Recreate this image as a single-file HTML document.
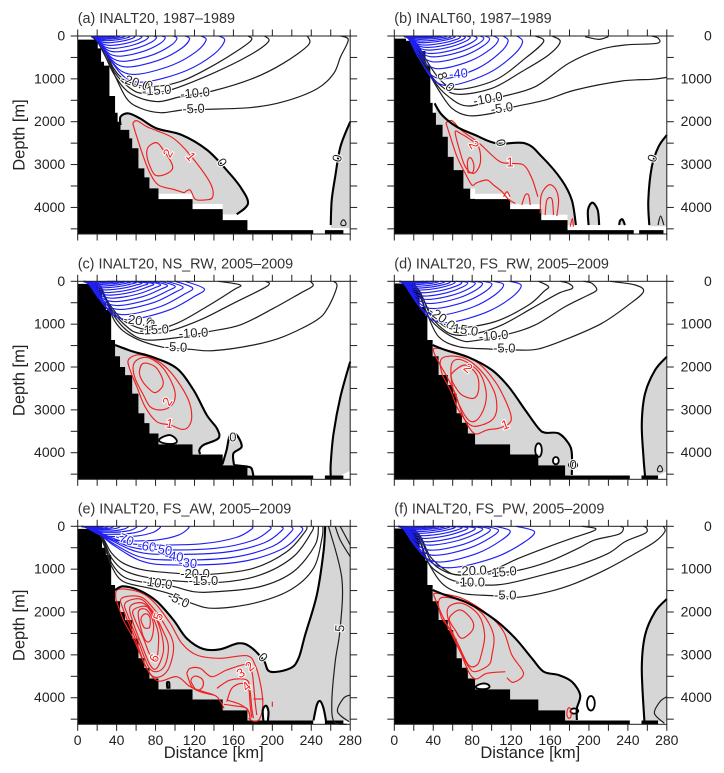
<!DOCTYPE html>
<html lang="en">
<head>
<meta charset="utf-8">
<title>Overturning sections</title>
<style>
html,body{margin:0;padding:0;background:#fff;}
svg{display:block;font-family:"Liberation Sans",sans-serif;filter:blur(0.3px);}
</style>
</head>
<body>
<svg id="chart" xmlns="http://www.w3.org/2000/svg" width="724" height="773" viewBox="0 0 724 773"></svg>
<script>
// ---------- axis data ----------
const xTickKm = [0,20,40,60,80,100,120,140,160,180,200,220,240,260,280];
const xLabelKm = [0,40,80,120,160,200,240,280];
const yTickDepth = [0,500,1000,1500,2000,2500,3000,3500,4000,4500];
const yLabelDepth = [0,1000,2000,3000,4000];

// ---------- bathymetry steps ----------
const aBathKm = [0,20.6,24,27,32.6,38.4,41,44,53,56,62.4,68.5,73.7,83,118,149,174.4,242,254,273];
const aBathDepth = [85,290,600,690,1400,1790,2000,2190,2390,2620,3090,3300,3555,3805,4040,4295,4530,4620,4530,4620];
const bBathKm = [0,12,20,25,32,37,39.4,42.8,49.6,55,61,71,78,83,119,151,178,246,251.6,276.6];
const bBathDepth = [60,110,190,350,700,1560,1790,2070,2350,2820,3130,3560,3800,3805,4040,4295,4530,4620,4530,4620];
const cBathKm = [0,21,25,29,34.4,38.4,43.5,48.7,56,62.4,68.5,73.7,83,118,149,174.4,242,254,273];
const cBathDepth = [60,200,500,670,1370,1750,2000,2190,2620,3080,3310,3550,3805,4040,4295,4530,4620,4530,4620];
const dBathKm = [0,22,26,32,34,39.4,45.5,55,60.5,64,69.5,75.6,83,119,148,175.5,242,254,271];
const dBathDepth = [50,200,600,800,1370,1750,2186,2420,2620,3080,3300,3550,3805,4040,4295,4530,4620,4530,4620];

// ---------- lower-boundary masks of the shaded cell ----------
const aMask = [[149,4162],[149,3920],[118,3920],[118,3680],[83,3680],[83,3555],[73.7,3555],[73.7,3430],[68.5,3430],[68.5,3300],[62.4,3300],[62.4,2800],[56,2800],[56,2570],[53,2570],[53,2200],[44,2200]];
const bMask = [[178,4411],[178,4170],[151,4170],[151,3925],[119,3925],[119,3680],[83,3680],[83,3560],[71,3560],[71,3130],[61,3130],[61,2820],[55,2820],[55,2350],[49.6,2350],[49.6,2070],[42.8,2070],[42.8,1790]];
const cMask = [[118,4030],[118,3805],[83,3805],[83,3550],[73.7,3550],[73.7,3310],[68.5,3310],[68.5,3080],[62.4,3080],[62.4,2620],[56,2620],[56,2190],[48.7,2190],[48.7,2000],[43.5,2000],[43.5,1750],[38.4,1750]];
const dMask = [[175.5,4530],[175.5,4295],[148,4295],[148,4040],[119,4040],[119,3805],[83,3805],[83,3550],[75.6,3550],[75.6,3300],[69.5,3300],[69.5,3080],[64,3080],[64,2620],[60.5,2620],[60.5,2420],[55,2420],[55,2186],[45.5,2186],[45.5,1750],[39.4,1750]];
const eMask = [[280,0],[280,4530],[254,4530],[174.4,4530],[174.4,4295],[149,4295],[149,4040],[118,4040],[118,3805],[83,3805],[83,3550],[73.7,3550],[73.7,3310],[68.5,3310],[68.5,3080],[62.4,3080],[62.4,2620],[56,2620],[56,2190],[48.7,2190],[48.7,2000],[43.5,2000],[43.5,1750],[38.4,1750]];

// ---------- panel a ----------
const aBlueOutcropKm = [151,132,115,102,90,81,72.7,66,58.9,53.8,48.7,43.6,38.4,35];
const aBlueKeelDepth = [1066,887,716,584,467,366,288,218,156,109,78,55,31,16];
const aZeroMain = [[44,2077],[44,1883],[52,1805],[64,1922],[81,2155],[107,2310],[133,2660],[153,3128],[167,3517],[175,3906],[163.5,4162]];
const aZeroRight = [[260,4410],[261,3830],[264.6,3280],[270,2580],[280,2000]];
const aMinus5 = [[15,25],[21,160],[36,820],[50,1450],[64,1680],[85,1790],[107,1730],[133,1710],[178,1670],[212,1530],[246,1230],[263,875],[270,490],[278,90],[270,0]];
const aMinus10 = [[15,20],[24,250],[37,880],[54,1340],[81,1530],[105,1420],[139,1280],[180,990],[211,640],[237,210],[236,0]];
const aMinus15 = [[15,20],[26,280],[38,850],[54,1220],[68,1340],[95,1260],[139,870],[177,444],[196,132],[192,0]];
const aMinus20 = [[15,20],[27,280],[37,755],[49,1030],[71,1180],[105,1066],[143,640],[177,132],[175,0]];
const aRed1Upper = [[56.5,2038],[60.7,1976],[71,2116],[81.2,2210],[98.4,2388],[115.5,2777],[136,3423],[138.5,3765],[129.2,3828],[120.6,3804],[115.5,3594],[109.3,3657]];
const aRed1Lower = [[56.5,2038],[60.7,2350],[67.5,2816],[74.4,3205],[83,3478],[98.4,3579],[109.3,3657]];
const aRed2 = [[72.7,2583],[81.2,2490],[88,2660],[96.6,2972],[96.6,3128],[88,3244],[79.5,3244],[74.4,3050],[71,2777]];

// ---------- panel b ----------
const bBlueOutcropKm = [131.8,117,107,98,92,85,78,73,68,62.6,58.5,54,49,44,39,33.5];
const bBlueKeelDepth = [1144,988,755,600,482,405,327,265,210,156,117,78,47,31,16,8];
const bZeroMain = [[41.4,1572],[49,1844],[64,2116],[83,2310],[105,2505],[134.5,2505],[151.6,2816],[172,3361],[182.4,3828],[186.6,4411]];
const bZeroRight = [[262,4411],[261,3828],[264.6,3050],[271.5,2583],[280,2310]];
const bDome1 = [[199.6,4411],[199,4060],[203.5,3890],[209,4060],[210.5,4411]];
const bDome2 = [[231,4411],[232,4310],[234.5,4280],[237,4411]];
const bDome3 = [[271,4411],[273.6,4200],[277,4411]];
const bMinus5 = [[16,60],[31.8,716],[45.5,1260],[59.2,1688],[76.3,1859],[100.3,1805],[120.8,1665],[155,1494],[186,1260],[233.8,1050],[264.6,1011],[280,965]];
const bMinus10 = [[16,50],[27,350],[40.4,1027],[55.8,1416],[76.3,1634],[110.6,1416],[144.8,1183],[179,638],[209.8,327],[237.2,210],[269.7,171],[271.4,54],[264.6,0]];
const bMinus15 = [[16,40],[25,280],[35,832],[49,1183],[66,1361],[100.3,1221],[131,832],[158.5,443],[170.5,132],[162,0]];
const bMinus20 = [[16,30],[25,240],[35,640],[49,1066],[66,1245],[103.7,1027],[134.5,521],[153.4,132],[144.8,0]];
const bTopPatch = [[196,15],[210,78],[220,15]];
const bRed1Upper = [[53,2023],[59.2,1976],[69.5,2210],[86.6,2490],[107,2910],[119,2972],[132.8,3011],[141.4,3322],[147.5,3750]];
const bRed1Lower = [[53,2023],[56.5,2272],[64.4,2816],[72.9,3205],[79.8,3478],[84.9,3423],[95.2,3361],[102,3478],[110.6,3633],[117.4,3812],[124.3,3906]];
const bRedArch1 = [[150,4139],[151,3711],[158.5,3478],[165.3,3555],[168.8,3828],[167,4201]];
const bRedArch2 = [[155,4178],[156.8,3828],[162,3804],[163.6,4178]];
const bRed2 = [[62.6,2233],[66,2583],[72.9,3050],[81.5,3205],[88.3,2972],[86.6,2583],[76.3,2388],[67.8,2272]];
const bRed3 = [[75.6,3128],[75.6,2894],[79.8,2879],[81.5,3128],[77,3190]];
const bRedArch3 = [[131,3944],[134.5,3711],[138,3711],[139.7,3944]];
const bRedArch4 = [[112.3,3750],[115.7,3633],[119,3750]];
const bRedArch5 = [[180.7,4450],[183,4256],[184,4450]];

// ---------- panel c ----------
const cBlueOutcropKm = [130,118,108,100,92,85,78,72,66,60,54,48,42,36];
const cBlueKeelDepth = [880,770,650,560,470,390,320,260,200,150,110,75,45,20];
const cZeroMain = [[38.4,1486],[57.2,1642],[77.8,1774],[101.8,2031],[119,2536],[132.6,3120],[143,3431],[144.6,3664],[129.2,3820],[125,3937],[125.8,4030]];
const cZeroRight = [[260,4560],[260,4248],[262.9,3548],[270,2692],[280,1875]];
const cBubble = [[84.6,3742],[89.8,3610],[98.4,3625],[100,3780]];
const cDome = [[148.7,4271],[153,3937],[156.5,3586],[163.3,3586],[168.5,3860],[160,4015],[160.6,4287]];
const cDomeFoot = [[160.6,4287],[174.4,4326],[178.6,4365],[180.6,4545]];
const cMinus5 = [[17,30],[24.7,163],[38.4,941],[57.2,1307],[88,1540],[115.5,1587],[139.5,1618],[180.6,1486],[211.4,1291],[245.7,902],[257.7,591],[266.3,124],[262.9,0]];
const cMinus10 = [[17,30],[26,300],[36.7,786],[52,1175],[71,1369],[105,1307],[134.3,1175],[167,1019],[201.2,630],[228.6,280],[241.6,109],[238.9,0]];
const cMinus15 = [[17,25],[26,260],[35,670],[50.4,1058],[64,1214],[91.5,1175],[125.8,902],[160,513],[190.9,163],[197,47],[192.6,0]];
const cMinus20 = [[17,20],[25,220],[33.2,552],[48.7,941],[74.4,1136],[101.8,980],[132.6,591],[160,202],[166.9,86],[144.6,0]];
const cRed1 = [[52,1836],[60.7,1719],[72.7,1758],[88,1953],[101.8,2303],[113.8,2770],[117.2,3159],[113.8,3392],[107,3454],[95,3353],[81.2,3275],[69.2,2925],[60.7,2458],[53.8,2070]];
const cRed2 = [[57.2,1953],[64,1797],[74.4,1797],[88,2031],[98.4,2458],[100,2731],[95,2925],[84.6,3003],[74.4,2925],[67.5,2653],[59,2264]];
const cRed3 = [[63.4,2108],[67.5,1914],[79.5,1992],[87,2264],[87,2458],[79.5,2598],[72.7,2497],[65.8,2303]];

// ---------- panel d ----------
const dBlueOutcropKm = [130.4,112.3,100.3,90.7,83.2,75.6,69.5,62.6,57.5,51.7,45.5,40.4,36,31];
const dBlueKeelDepth = [957,786,630,513,420,342,265,202,156,117,78,47,31,16];
const dZeroMain = [[39.4,1486],[52.4,1603],[76.3,1774],[100.3,2070],[117.4,2458],[134.5,3003],[148.2,3431],[155,3532],[168.8,3548],[179,3781],[182.4,4015],[182.4,4520]];
const dZeroRight = [[257.7,4560],[256,4092],[254.3,3314],[257.7,2614],[268,2070],[280,1758]];
const dHole1 = [[144.8,3937],[148.2,3780],[151.6,3937],[148.2,4100]];
const dHole2 = [[163,4186],[166,4100],[169,4186],[166,4270]];
const dHole3 = [[179.5,4287],[183.8,4220],[188,4287],[183.8,4350]];
const dMinus5 = [[17,30],[25,280],[33.5,747],[45.5,1291],[66,1525],[96.9,1579],[126,1603],[148.2,1579],[179,1330],[213.3,980],[240.6,552],[256,241],[247.5,86],[221.8,0]];
const dMinus10 = [[17,25],[26,280],[35.3,825],[50.7,1175],[69.5,1385],[83,1385],[117.4,1229],[144.8,1019],[175.6,591],[199.5,319],[208,202],[203,47],[194.4,0]];
const dMinus15 = [[17,20],[27,280],[37,786],[49,1097],[62.6,1253],[84.9,1214],[110.6,1019],[141.4,630],[168.8,280],[183,163],[179,47],[170.5,0]];
const dMinus20 = [[17,15],[26,230],[35.3,670],[47.2,980],[62.6,1097],[103.7,941],[138,552],[153.4,241],[158.5,124],[148.2,0]];
const dRed1 = [[40.4,1642],[43.8,1564],[66,1681],[86.6,1914],[103.7,2342],[114,2770],[120.1,3159],[117.4,3330],[107,3431],[95.2,3470],[83.9,3563],[76.3,3392],[69.5,3081],[62.6,2614],[54,2225],[47.2,1953]];
const dRed2 = [[49,1797],[69.5,1774],[88.3,2070],[102,2536],[105.4,2925],[102,3198],[90,3353],[78,3353],[66,3003],[57.5,2536],[49,2153]];
const dRed3 = [[59.2,1914],[69.5,1836],[86.6,2108],[94.1,2536],[92.8,2925],[84.9,3236],[76.3,3236],[66,2847],[59.2,2381]];
const dRed4 = [[59.2,2147],[72.9,1953],[84.9,2186],[86.6,2536],[81.5,2731],[69.5,2653],[62.6,2458],[59.2,2303]];

// ---------- panel e ----------
const eBlueOutcropKm = [230,220,210,197.7,179,113.8,84.6,71,60.7,52,43.5,36.7,31.5,26.4,23,19.5];
const eBlueKeelDepth = [902,786,654,552,436,342,241,187,140,109,78,62,47,31,23,16];
const eZeroMain = [[38.4,1486],[47,1401],[64,1502],[81.2,1751],[98.4,2186],[112,2614],[129.2,2863],[146.3,2871],[165,2731],[177.2,2809],[190.9,3120],[197.7,3392],[218.3,3314],[226.9,3081],[233.7,2536],[245.7,1603],[252.6,591],[254.3,0]];
const eDome1 = [[242.3,4530],[245.7,4170],[249.1,4077],[252.6,4248],[255.3,4560]];
const eDome2 = [[190.9,4560],[190.2,4287],[193.6,4186],[196,4326],[195.3,4560]];
const eBlob = [[92.2,3790],[91.8,3650],[94,3650],[94.2,3790]];
const ePlus5 = [[257.7,0],[271.4,1214],[269.7,2381],[264.6,3159],[261.1,4092],[263.5,4560],[276.5,4620]];
const ePlusA = [[264.6,0],[269.7,319],[280,708]];
const ePlusB = [[269.7,0],[280,436]];
const ePlusC = [[280,3937],[273,4015],[267,4326],[278.8,4560]];
const eMinus5 = [[22,150],[28,500],[35,941],[47,1291],[74.4,1447],[98.4,1603],[117.2,1797],[139.5,1914],[180.6,1797],[218.3,1486],[242.3,980],[251,280],[252,0]];
const eMinus10 = [[22,130],[28,450],[35,864],[47,1175],[67.5,1307],[95,1385],[119,1525],[143,1525],[187.5,1408],[221.7,1058],[244,436],[247.4,0]];
const eMinus15 = [[22,120],[28,400],[35,747],[47,1019],[67.5,1175],[101.8,1276],[146.3,1307],[187.5,1136],[221.7,708],[240.6,124],[241.6,0]];
const eMinus20 = [[22,110],[28,350],[35,630],[47,864],[67.5,1019],[101.8,1097],[136,1120],[180.6,980],[215,591],[233.7,124],[235.4,0]];
const eRedOuterUpper = [[39,1680],[41.8,1470],[64,1540],[79.5,1797],[95,2264],[107,2731],[122.3,3003],[146.3,3081],[173.7,3019],[182.3,3236],[188,3703],[190.2,4170],[186.8,4497],[180.6,4544],[175.5,4481]];
const eRedOuterLower = [[39,1680],[47,2186],[57.2,2614],[71,3314],[83,3610],[101.8,3509],[115.5,3742],[129.2,3859],[143,3976],[150.4,4248]];
const eRedL2 = [[45.2,1680],[64,1642],[77.8,1914],[91.5,2381],[98.4,2770],[95,3236],[88,3470],[77.8,3509],[69.2,3236],[59,2614],[47,1953]];
const eRedL3 = [[48.7,1797],[64,1696],[76,1953],[88,2458],[93.2,2809],[89.8,3236],[81.2,3392],[72.7,3275],[62.4,2692],[52,2108]];
const eRedL4 = [[53.8,1875],[67.5,1797],[79.5,2108],[86.4,2536],[88,2925],[81.2,3314],[74.4,3236],[65.8,2770],[57.2,2264]];
const eRedL5 = [[57.2,1953],[71,1875],[78.5,2186],[83,2536],[81.2,3081],[74.4,3003],[67.5,2614],[59,2186]];
const eRedL6 = [[62.4,1992],[71,1953],[77.8,2264],[76,2614],[71,2692],[65.8,2458]];
const eRedL7 = [[65.8,2108],[72.7,2069],[74.4,2303],[71,2381],[66.8,2303]];
const eRedM1 = [[112,3431],[115.5,3314],[125.8,3314],[137.8,3509],[153.2,3353],[173.7,3221],[178.9,3392],[180.6,3664],[182.3,4092],[184,4403]];
const eRedM2 = [[117.2,3548],[124,3509],[129.2,3664],[124,3820],[118.2,3703]];
const eRedM3 = [[143,3781],[156.6,3587],[173.7,3587],[177.2,3859],[178.9,4248],[180.6,4481]];
const eRedM4 = [[153.2,4092],[158.3,3781],[168.6,3664],[175.5,3781],[177.2,4170],[178.9,4466]];
const eRedB1 = [[150.4,4154],[160,4186],[173.7,4248],[177.2,4481]];
const eRedB2 = [[153.2,4053],[166.9,4154],[175.5,4310],[177.2,4497]];
const eRedB3 = [[112,3431],[117.2,3742],[125.8,3859],[139.5,3937]];
const eRedBar = [[180.6,4030],[190.9,4030]];
const eRedTick = [[200,4092],[200,4209]];

// ---------- panel f ----------
const fBlueOutcropKm = [144,119,107,98.6,90.7,83.2,75.6,69.5,62.6,56.5,51.7,45.5,40.4,35];
const fBlueKeelDepth = [957,825,669,552,436,358,280,218,163,124,86,62,39,23];
const fZeroMain = [[39.4,1486],[52.4,1603],[76.3,1797],[103.7,2186],[124.3,2614],[141.4,3081],[153.4,3392],[168.8,3470],[182.4,3625],[191,3937],[187.6,4248],[187.6,4520]];
const fZeroRight = [[257,4560],[254.3,3314],[257.7,2536],[268,1992],[280,1696]];
const fBubble = [[84.9,3781],[86.6,3695],[95.2,3680],[96.2,3781]];
const fHole = [[181,4310],[184.8,4250],[189,4310],[184.8,4370]];
const fDiamond = [[198,4131],[202,3960],[206,4131],[202,4300]];
const fPlusA = [[280,3976],[273,4092],[267.3,4365],[277.6,4598]];
const fMinus5 = [[17,30],[25,280],[33.5,786],[49,1330],[69.5,1564],[100.3,1618],[126,1657],[158.8,1525],[186,1330],[220,980],[250.9,591],[268,358],[278,124],[276.5,0]];
const fMinus10 = [[17,25],[26,300],[35.3,864],[49,1136],[64.4,1291],[91.7,1369],[117.4,1330],[158.8,1097],[189.6,902],[220,630],[237.2,358],[257.7,163],[259.4,47],[256,0]];
const fMinus15 = [[17,20],[27,280],[37,786],[49,1019],[66,1136],[96.9,1097],[124.3,1042],[158.5,825],[189,513],[206,319],[230.4,187],[235.5,47],[232,0]];
const fMinus20 = [[17,15],[27,240],[37,708],[52.4,1019],[66,1136],[95,1074],[127.7,747],[158.5,475],[182.4,280],[203,124],[206.4,47],[192.7,0]];
const fRed1Upper = [[40.4,1603],[43.8,1564],[69.5,1680],[96.9,2070],[112.3,2458],[120.8,3003],[132.8,3431],[122.5,3641],[115.7,3532]];
const fRed1Lower = [[114,3392],[95.2,3431],[83.9,3563],[76.3,3392],[67.8,2925],[57.5,2458],[49,2070],[40.4,1603]];
const fRed2 = [[47.2,1680],[69.5,1743],[90,2030],[102,2536],[100.3,3003],[97,3236],[83.2,3392],[76.3,3275],[66,2847],[56.5,2381],[48,2108]];
const fRed3 = [[55,1914],[69.5,1797],[86.6,2070],[92.8,2536],[89.3,3003],[85,3236],[76.3,3236],[66,2770],[57.5,2342]];
const fRed4 = [[56.5,2147],[67.8,1953],[79.8,2186],[80.4,2420],[69.5,2614],[62.6,2420]];
const fRedMini = [[177.3,4365],[179.7,4232],[181.8,4365],[179.7,4481]];

// ---------- layout ----------
const SVGNS = 'http://www.w3.org/2000/svg';
const root = document.getElementById('chart');
const PLOT_W = 272.5, PLOT_H = 198, MAX_KM = 280, MAX_DEPTH = 4620;
const GRAY = '#d6d6d6', BLUE = '#1f1ff5', RED = '#f02020', DARK = '#1e1e1e';

const panels = [
 {id:'a',title:'(a) INALT20, 1987\u20131989',left:77.7,top:36,side:'left',bottom:false,
  bathKm:aBathKm,bathDepth:aBathDepth,blueOut:aBlueOutcropKm,blueKeel:aBlueKeelDepth,shelf:[14,15],flat:false,tip:0.96,tipDepth:0.1,
  fills:[{c:aZeroMain,m:aMask,f:GRAY},{c:aZeroRight,m:[[280,4480],[260,4480]],f:GRAY}],
  black:[aMinus5,aMinus10,aMinus15,aMinus20],
  red:[aRed1Upper,aRed1Lower],redClosed:[aRed2],
  zero:[aZeroMain,aZeroRight],
  closedBlack:[[[270.5,4400],[273,4290],[275.5,4400]]],
  labels:[['-20.0',59,1089,18],['0',72.7,1159,30],['-15.0',81.2,1276,-4],['-10.0',120.6,1338,-5],['-5.0',119,1704,-2],['0',148,2956,55],['0',267,2855,-75],['2',93.2,2738,-60,RED],['1',116,2816,50,RED]]},
 {id:'b',title:'(b) INALT60, 1987\u20131989',left:394.3,top:36,side:'right',bottom:false,
  bathKm:bBathKm,bathDepth:bBathDepth,blueOut:bBlueOutcropKm,blueKeel:bBlueKeelDepth,shelf:[10,10],flat:false,tip:0.955,tipDepth:0.12,
  fills:[{c:bZeroMain,m:bMask,f:GRAY},{c:bZeroRight,m:[[280,4440],[262,4440]],f:GRAY},{c:bDome1,m:[],f:GRAY},{c:bDome2,m:[],f:GRAY}],
  black:[bMinus5,bMinus10,bMinus15,bMinus20,bTopPatch,bDome3],
  red:[bRed1Upper,bRed1Lower,bRedArch1,bRedArch2,bRedArch3,bRedArch4,bRedArch5],redClosed:[bRed2,bRed3],
  zero:[bZeroMain,bZeroRight,bDome1,bDome2],closedBlack:[],
  labels:[['-40',66,887,-5,BLUE],['8',49,933,70],['0',57,1198,45],['-10.0',96.2,1470,-10],['-5.0',110.6,1688,-8],['0',109,2490,80],['0',265.6,2855,-70],['1',119,2950,0,RED],['2',81.5,2545,60,RED]]},
 {id:'c',title:'(c) INALT20, NS_RW, 2005\u20132009',left:77.7,top:281.3,side:'left',bottom:false,
  bathKm:cBathKm,bathDepth:cBathDepth,blueOut:cBlueOutcropKm,blueKeel:cBlueKeelDepth,shelf:[6,5],flat:false,tip:0.85,tipDepth:0.2,
  fills:[{c:cZeroMain,m:cMask,f:GRAY},{c:cZeroRight,m:[[280,4420],[262,4620],[260,4620]],f:GRAY},{c:cDome,m:[],f:GRAY},{c:cDomeFoot,m:[[174.4,4530],[174.4,4295],[149,4295],[148.7,4271]],f:GRAY}],
  closedWhite:[cBubble],
  black:[cMinus5,cMinus10,cMinus15,cMinus20],
  red:[],redClosed:[cRed1,cRed2,cRed3],
  zero:[cZeroMain,cZeroRight,cDome,cDomeFoot],closedBlack:[],
  labels:[['-20.0',62.4,926,8],['0',74.4,996,45],['-15.0',78.5,1136,-3],['-10.0',119,1214,-3],['-5.0',101,1540,3],['0',159.4,3649,0],['2',92.5,2809,-60,RED],['1',94.3,3330,10,RED]]},
 {id:'d',title:'(d) INALT20, FS_RW, 2005\u20132009',left:394.3,top:281.3,side:'right',bottom:false,
  bathKm:dBathKm,bathDepth:dBathDepth,blueOut:dBlueOutcropKm,blueKeel:dBlueKeelDepth,shelf:[5,5],flat:false,tip:0.91,tipDepth:0.1,
  fills:[{c:dZeroMain,m:dMask,f:GRAY},{c:dZeroRight,m:[[280,4430],[271,4530],[258,4530]],f:GRAY}],
  closedWhite:[dHole1,dHole2,dHole3],
  black:[dMinus5,dMinus10,dMinus15,dMinus20],
  red:[],redClosed:[dRed1,dRed2,dRed3,dRed4],
  zero:[dZeroMain,dZeroRight],closedBlack:[[[270.5,4420],[273,4300],[275.5,4420]]],
  labels:[['-20.0',49,864,35],['0',57.5,1019,45],['-15.0',71,1136,8],['-10.0',102,1276,-5],['-5.0',113,1564,0],['1',114,3353,-20,RED],['2',75.6,2030,40,RED],['0',183.8,4287,0]]},
 {id:'e',title:'(e) INALT20, FS_AW, 2005\u20132009',left:77.7,top:526.3,side:'left',bottom:true,
  bathKm:cBathKm,bathDepth:cBathDepth,blueOut:eBlueOutcropKm,blueKeel:eBlueKeelDepth,shelf:[4,4],flat:true,tip:0.995,tipDepth:0.14,
  fills:[{c:eZeroMain,m:eMask,f:GRAY}],
  closedWhite:[],openWhite:[eDome1,eDome2],
  black:[eMinus5,eMinus10,eMinus15,eMinus20,ePlus5,ePlusA,ePlusB,ePlusC],
  red:[eRedOuterUpper,eRedOuterLower,eRedM1,eRedM3,eRedM4,eRedB1,eRedB2,eRedB3,eRedBar,eRedTick],
  redClosed:[eRedL2,eRedL3,eRedL4,eRedL5,eRedL6,eRedL7,eRedM2],
  zero:[eZeroMain,eDome1,eDome2,eBlob],closedBlack:[],
  labels:[['-70',48,303,20,BLUE],['-60',71,475,8,BLUE],['-50',87.4,552,10,BLUE],['-40',99,708,8,BLUE],['-30',113,864,5,BLUE],['-20.0',120.6,1112,0],['-15.0',129.2,1276,0],['-10.0',82,1330,8],['-5.0',103.5,1719,25],['5',269.7,2381,-85],['0',190.2,3065,45],['5',83,2108,-70,RED],['6',78.9,3081,-60,RED],['3',167.7,3431,-30,RED],['2',177,3275,-40,RED],['4',173.7,3742,-40,RED]]},
 {id:'f',title:'(f) INALT20, FS_PW, 2005\u20132009',left:394.3,top:526.3,side:'right',bottom:true,
  bathKm:dBathKm,bathDepth:dBathDepth,blueOut:fBlueOutcropKm,blueKeel:fBlueKeelDepth,shelf:[4,4],flat:false,tip:0.87,tipDepth:0.13,
  fills:[{c:fZeroMain,m:dMask,f:GRAY},{c:fZeroRight,m:[[280,4560],[257,4560]],f:GRAY}],
  closedWhite:[fBubble,fHole,fDiamond],
  black:[fMinus5,fMinus10,fMinus15,fMinus20,fPlusA],
  red:[fRed1Upper,fRed1Lower],redClosed:[fRed2,fRed3,fRed4,fRedMini],
  zero:[fZeroMain,fZeroRight],closedBlack:[],
  labels:[['-20.0',79.8,1042,-2],['-15.0',110.6,1074,-5],['-10.0',78,1315,0],['-5.0',114,1618,0]]}
];

// ---------- drawing helpers ----------
function add(parent, tag, attrs, name){
  const el = document.createElementNS(SVGNS, tag);
  for (const k in attrs) el.setAttribute(k, attrs[k]);
  
  
  parent.appendChild(el);
  return el;
}
function smoothOpen(p){
  let d = 'M' + p[0][0].toFixed(2) + ' ' + p[0][1].toFixed(2);
  for (let i = 0; i < p.length - 1; i++){
    const a = p[Math.max(i-1,0)], b = p[i], c = p[i+1], e = p[Math.min(i+2,p.length-1)];
    d += 'C' + (b[0]+(c[0]-a[0])/6).toFixed(2) + ' ' + (b[1]+(c[1]-a[1])/6).toFixed(2) + ' ' +
         (c[0]-(e[0]-b[0])/6).toFixed(2) + ' ' + (c[1]-(e[1]-b[1])/6).toFixed(2) + ' ' +
         c[0].toFixed(2) + ' ' + c[1].toFixed(2);
  }
  return d;
}
function smoothClosed(p){
  const n = p.length;
  const k = n <= 5 ? 3.6 : 6;
  let d = 'M' + p[0][0].toFixed(2) + ' ' + p[0][1].toFixed(2);
  for (let i = 0; i < n; i++){
    const a = p[(i-1+n)%n], b = p[i], c = p[(i+1)%n], e = p[(i+2)%n];
    d += 'C' + (b[0]+(c[0]-a[0])/k).toFixed(2) + ' ' + (b[1]+(c[1]-a[1])/k).toFixed(2) + ' ' +
         (c[0]-(e[0]-b[0])/k).toFixed(2) + ' ' + (c[1]-(e[1]-b[1])/k).toFixed(2) + ' ' +
         c[0].toFixed(2) + ' ' + c[1].toFixed(2);
  }
  return d + 'Z';
}

function drawPanel(p){
  const xAxis = km => p.left + km / MAX_KM * PLOT_W;
  const yAxis = m => p.top + m / MAX_DEPTH * PLOT_H;
  const proj = pts => pts.map(q => [xAxis(q[0]), yAxis(q[1])]);
  const g = add(root, 'g', {}, 'panel-' + p.id);

  add(g, 'text', {x: p.left, y: p.top - 13, 'font-size': 14.4, fill: '#333'}, 'panel-title-' + p.id).textContent = p.title;

  // shaded positive cells
  p.fills.forEach((f, i) => {
    let d = smoothOpen(proj(f.c));
    proj(f.m).forEach(q => { d += 'L' + q[0].toFixed(2) + ' ' + q[1].toFixed(2); });
    add(g, 'path', {d: d + 'Z', fill: f.f, stroke: 'none'}, 'positive-cell-' + p.id + '-' + i);
  });
  (p.openWhite || []).forEach((c, i) => {
    add(g, 'path', {d: smoothOpen(proj(c)) + 'Z', fill: '#fff'}, 'negative-pocket-' + p.id + '-' + i);
  });
  (p.closedWhite || []).forEach((c, i) => {
    add(g, 'path', {d: smoothClosed(proj(c)), fill: '#fff', stroke: '#000', 'stroke-width': 1.8}, 'zero-closed-contour-' + p.id + '-' + i);
  });

  // bathymetry
  let bd = 'M' + xAxis(0) + ' ' + yAxis(MAX_DEPTH);
  p.bathKm.forEach((km, i) => {
    const next = i + 1 < p.bathKm.length ? p.bathKm[i+1] : MAX_KM;
    bd += 'L' + xAxis(km).toFixed(2) + ' ' + yAxis(p.bathDepth[i]).toFixed(2) + 'L' + xAxis(next).toFixed(2) + ' ' + yAxis(p.bathDepth[i]).toFixed(2);
  });
  bd += 'L' + xAxis(MAX_KM) + ' ' + yAxis(MAX_DEPTH) + 'Z';
  add(g, 'path', {d: bd, fill: '#000'}, 'bathymetry-' + p.id);

  // red positive contours
  p.red.forEach((c, i) => {
    add(g, 'path', {d: smoothOpen(proj(c)), fill: 'none', stroke: RED, 'stroke-width': 1.15}, 'red-contour-' + p.id + '-' + i);
  });
  p.redClosed.forEach((c, i) => {
    add(g, 'path', {d: smoothClosed(proj(c)), fill: 'none', stroke: RED, 'stroke-width': 1.15}, 'red-closed-contour-' + p.id + '-' + i);
  });

  // black contours
  p.black.forEach((c, i) => {
    add(g, 'path', {d: smoothOpen(proj(c)), fill: 'none', stroke: DARK, 'stroke-width': 1.2}, 'black-contour-' + p.id + '-' + i);
  });
  p.closedBlack.forEach((c, i) => {
    add(g, 'path', {d: smoothClosed(proj(c)), fill: 'none', stroke: DARK, 'stroke-width': 1.1}, 'small-contour-' + p.id + '-' + i);
  });

  // blue nested negative contours
  p.blueOut.forEach((ox, i) => {
    const dm = p.blueKeel[i], sx = p.shelf[0], sd = p.shelf[1];
    const kx = sx + 0.42 * (ox - sx);
    const span = kx - sx, rest = ox - kx;
    const pts = p.flat
      ? [[sx,sd],[sx+0.14*span,0.1*dm],[sx+0.34*span,0.48*dm],[sx+0.65*span,0.9*dm],[kx,dm],[kx+0.5*rest,0.93*dm],[kx+0.84*rest,0.6*dm],[ox,p.tipDepth*dm],[ox*p.tip,0]]
      : [[sx,sd],[sx+0.12*span,0.09*dm],[sx+0.32*span,0.49*dm],[sx+0.62*span,0.92*dm],[kx,dm],[kx+0.5*rest,0.76*dm],[kx+0.86*rest,0.4*dm],[ox,p.tipDepth*dm],[ox*p.tip,0]];
    add(g, 'path', {d: smoothOpen(proj(pts)), fill: 'none', stroke: BLUE, 'stroke-width': 1.15}, 'blue-contour-' + p.id + '-' + i);
  });

  // thick zero contours
  p.zero.forEach((c, i) => {
    add(g, 'path', {d: smoothOpen(proj(c)), fill: 'none', stroke: '#000', 'stroke-width': 2.1}, 'zero-contour-' + p.id + '-' + i);
  });

  // contour labels
  p.labels.forEach((l, i) => {
    const lx = xAxis(l[1]), ly = yAxis(l[2]);
    const t = add(g, 'text', {x: lx, y: ly + 4, 'font-size': 13, 'text-anchor': 'middle',
      fill: l[4] || DARK, stroke: '#fff', 'stroke-width': 2, 'paint-order': 'stroke',
      transform: 'rotate(' + l[3] + ' ' + lx + ' ' + ly + ')'}, 'contour-label-' + p.id + '-' + i);
    t.textContent = l[0];
  });

  // axes
  add(g, 'rect', {x: p.left, y: p.top, width: PLOT_W, height: PLOT_H, fill: 'none', stroke: DARK, 'stroke-width': 1}, 'plot-frame-' + p.id);
  xTickKm.forEach(km => {
    const xp = xAxis(km);
    add(g, 'line', {x1: xp, x2: xp, y1: p.top - 6.5, y2: p.top, stroke: DARK, 'stroke-width': 1}, 'top-tick-' + km);
    add(g, 'line', {x1: xp, x2: xp, y1: p.top + PLOT_H, y2: p.top + PLOT_H + 6.5, stroke: DARK, 'stroke-width': 1}, 'bottom-tick-' + km);
  });
  yTickDepth.forEach(m => {
    const yp = yAxis(m);
    add(g, 'line', {x1: p.left - 7, x2: p.left, y1: yp, y2: yp, stroke: DARK, 'stroke-width': 1}, 'left-tick-' + m);
    add(g, 'line', {x1: p.left + PLOT_W, x2: p.left + PLOT_W + 7, y1: yp, y2: yp, stroke: DARK, 'stroke-width': 1}, 'right-tick-' + m);
  });
  yLabelDepth.forEach(m => {
    const tx = p.side === 'left' ? p.left - 12.5 : p.left + PLOT_W + 45;
    add(g, 'text', {x: tx, y: yAxis(m) + 4.5, 'font-size': 14, 'text-anchor': 'end', fill: '#222'}, 'y-tick-label-' + m).textContent = String(m);
  });
  if (p.side === 'left'){
    const cy = p.top + 99;
    add(g, 'text', {x: 24.5, y: cy, 'font-size': 16.5, 'text-anchor': 'middle', fill: '#222',
      transform: 'rotate(-90 24.5 ' + cy + ')'}, 'y-axis-title-' + p.id).textContent = 'Depth [m]';
  }
  if (p.bottom){
    xLabelKm.forEach(km => {
      add(g, 'text', {x: xAxis(km), y: 745, 'font-size': 14, 'text-anchor': 'middle', fill: '#222'}, 'x-tick-label-' + km).textContent = String(km);
    });
    add(g, 'text', {x: p.left + 136, y: 758, 'font-size': 16.5, 'text-anchor': 'middle', fill: '#222'}, 'x-axis-title-' + p.id).textContent = 'Distance [km]';
  }
}
panels.forEach(drawPanel);
</script>
</body>
</html>
